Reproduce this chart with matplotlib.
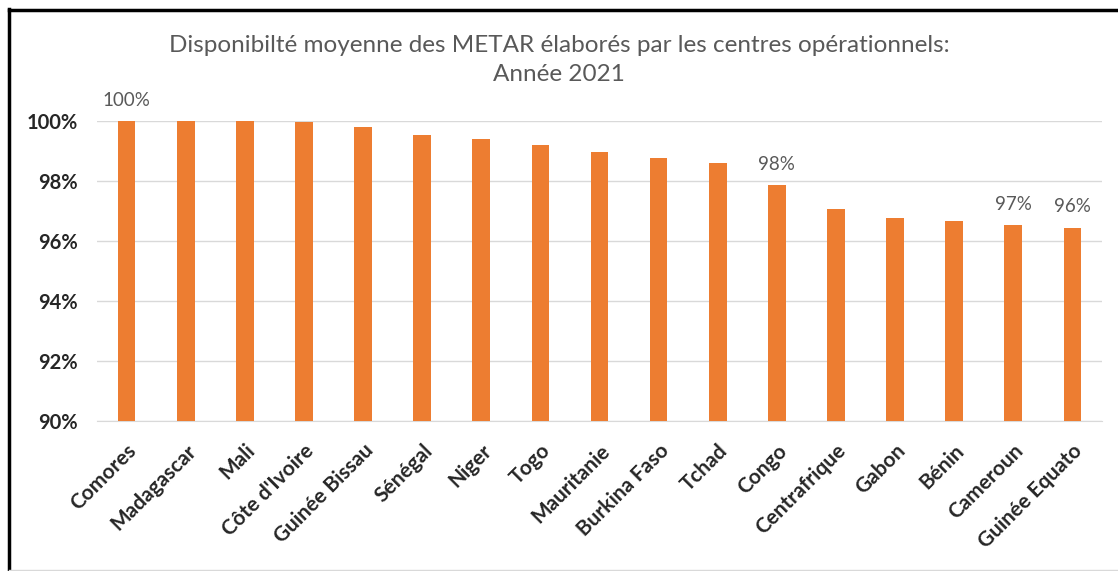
import matplotlib
matplotlib.use("Agg")
import matplotlib.pyplot as plt
from matplotlib.lines import Line2D
from matplotlib.ticker import FuncFormatter

countries = ["Comores", "Madagascar", "Mali", "Côte d'Ivoire", "Guinée Bissau",
             "Sénégal", "Niger", "Togo", "Mauritanie", "Burkina Faso", "Tchad",
             "Congo", "Centrafrique", "Gabon", "Bénin", "Cameroun", "Guinée Equato"]
values = [100.0, 100.0, 100.0, 99.98, 99.79, 99.55, 99.39, 99.2, 98.97, 98.77,
          98.59, 97.86, 97.06, 96.78, 96.67, 96.52, 96.45]
labelled = {"Comores": "100%", "Congo": "98%", "Cameroun": "97%", "Guinée Equato": "96%"}
yticks = [90, 92, 94, 96, 98, 100]
title = "Disponibilté moyenne des METAR élaborés par les centres opérationnels:\nAnnée 2021"

plt.rcParams['font.family'] = ['Lato', 'DejaVu Sans']

W, H = 1118, 571
fig = plt.figure(figsize=(W / 100, H / 100), dpi=100)
ax = fig.add_axes([97 / W, 1 - 421 / H, (1102 - 97) / W, (421 - 121) / H])

x = list(range(len(countries)))
ax.bar(x, values, width=0.3, color="#ED7D31", zorder=3)
ax.set_ylim(90, 100)
ax.set_xlim(-0.5, len(countries) - 0.5)
ax.set_yticks(yticks)
ax.yaxis.set_major_formatter(FuncFormatter(lambda v, p: f"{v:.0f}%"))
ax.grid(axis="y", color="#D9D9D9", linewidth=1, zorder=0)
ax.tick_params(axis="both", length=0)
for s in ax.spines.values():
    s.set_visible(False)
ax.spines["bottom"].set_visible(True)
ax.spines["bottom"].set_color("#D9D9D9")
ax.set_xticks(x)
ax.set_xticklabels(countries, rotation=45, ha="right", rotation_mode="anchor",
                   fontsize=15, fontweight="bold", color="#262626")
for lab in ax.get_yticklabels():
    lab.set_fontsize(14.5)
    lab.set_fontweight("bold")
    lab.set_color("#262626")
ax.tick_params(axis="x", pad=14)
ax.tick_params(axis="y", pad=14)

for xi, c, v in zip(x, countries, values):
    if c in labelled:
        ax.annotate(labelled[c], (xi, v), xytext=(0, 9), textcoords="offset points",
                    ha="center", va="bottom", fontsize=13.5, color="#595959")

fig.text(0.5, 1 - 60 / H, title, ha="center", va="center", fontsize=17.5,
         color="#595959", linespacing=1.45)

fig.add_artist(Line2D([8.5 / W, 8.5 / W], [0, 1 - 8.5 / H], transform=fig.transFigure,
                      color="black", linewidth=2.5))
fig.add_artist(Line2D([8.5 / W, 1], [1 - 9.5 / H, 1 - 9.5 / H], transform=fig.transFigure,
                      color="black", linewidth=2.5))
fig.add_artist(Line2D([8.5 / W, 1], [1.5 / H, 1.5 / H], transform=fig.transFigure,
                      color="#D9D9D9", linewidth=1))

fig.savefig("out.png", dpi=100)
